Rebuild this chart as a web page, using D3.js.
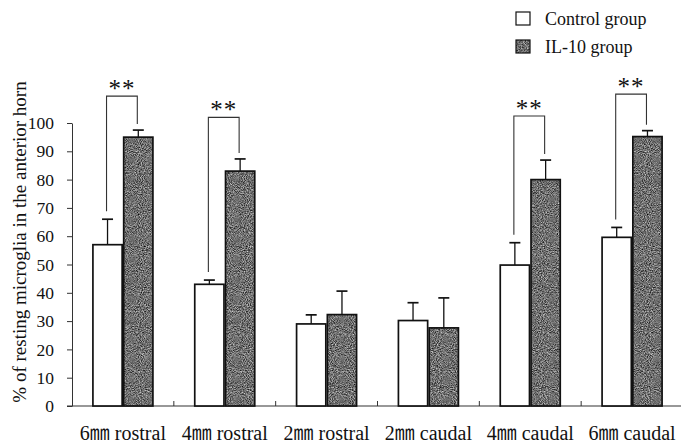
<!DOCTYPE html>
<html>
<head>
<meta charset="utf-8">
<script src="https://cdn.jsdelivr.net/npm/d3@7/dist/d3.min.js"></script>
<style>
  html, body { margin: 0; padding: 0; background: #fff; }
  svg { display: block; }
  text { font-family: "Liberation Serif", "Times New Roman", "Noto Sans CJK JP", serif; fill: #111; }
</style>
</head>
<body>
<svg id="chart" width="681" height="444"></svg>
<script>
// Sampling sites along the cord
const categories = ["6㎜ rostral", "4㎜ rostral", "2㎜ rostral", "2㎜ caudal", "4㎜ caudal", "6㎜ caudal"];
const groups = ["Control group", "IL-10 group"];

// Mean % of resting microglia and SD (upper error bar only)
const controlMean = [57, 43, 29, 30.2, 49.8, 59.6];
const controlErr  = [9, 1.5, 3.2, 6.3, 7.9, 3.5];
const il10Mean    = [95, 83, 32.3, 27.6, 80, 95.2];
const il10Err     = [2.5, 4.3, 8.3, 10.6, 6.9, 2.1];

// Significance marks and the value level of each bracket
const sigMarks  = ["**", "**", "", "", "**", "**"];
const sigLevels = [109.5, 102, null, null, 102.5, 110.2];

const yTicks = [0, 10, 20, 30, 40, 50, 60, 70, 80, 90, 100];
const yTitle = "% of resting microglia in the anterior horn";

const svg = d3.select("#chart");
const W = 681, H = 444;
const m = { left: 72, right: -2, top: 123, bottom: 38 };

const x0 = d3.scaleBand().domain(categories).range([m.left, W - m.right]).paddingInner(0).paddingOuter(0);
const bw = x0.bandwidth();
const x1 = d3.scaleBand().domain(groups).range([bw / 2 - 30, bw / 2 + 30]).paddingInner(0.05);
const y = d3.scaleLinear().domain([0, 100]).range([H - m.bottom, m.top]);

// Grainy grey fill for the IL-10 bars
const defs = svg.append("defs");
const f = defs.append("filter").attr("id", "grain")
  .attr("x", 0).attr("y", 0).attr("width", 1).attr("height", 1)
  .attr("filterUnits", "objectBoundingBox")
  .attr("color-interpolation-filters", "sRGB");
f.append("feTurbulence").attr("type", "fractalNoise").attr("baseFrequency", 0.95)
  .attr("numOctaves", 2).attr("seed", 7).attr("result", "noise");
f.append("feColorMatrix").attr("in", "noise").attr("type", "matrix")
  .attr("values", "1.05 0 0 0 -0.09  1.05 0 0 0 -0.09  1.05 0 0 0 -0.09  0 0 0 0 1")
  .attr("result", "g");
f.append("feComposite").attr("in", "g").attr("in2", "SourceGraphic").attr("operator", "in");

const rows = categories.map((c, i) => ({
  cat: c,
  vals: [
    { g: groups[0], v: controlMean[i], e: controlErr[i] },
    { g: groups[1], v: il10Mean[i], e: il10Err[i] }
  ],
  mark: sigMarks[i], level: sigLevels[i]
}));

// Axes
const axisColor = "#333";
const yAxis = d3.axisLeft(y).tickValues(yTicks).tickSize(5).tickPadding(13).tickSizeOuter(0);
const gy = svg.append("g").attr("transform", `translate(${m.left},0)`).call(yAxis);
gy.select(".domain").attr("stroke", axisColor).attr("stroke-width", 1);
gy.selectAll(".tick line").attr("stroke", axisColor);
gy.selectAll(".tick text").attr("font-size", 17.5).attr("fill", "#111")
  .style("font-family", "'Liberation Serif', serif");

// Baseline and the small category separators
svg.append("line").attr("x1", m.left - 5).attr("x2", W).attr("y1", y(0)).attr("y2", y(0))
  .attr("stroke", axisColor).attr("stroke-width", 1.2);
svg.append("g").selectAll("line").data(categories.slice(1)).join("line")
  .attr("x1", d => x0(d)).attr("x2", d => x0(d))
  .attr("y1", y(0)).attr("y2", y(0) - 5)
  .attr("stroke", axisColor);

// Category labels
svg.append("g").selectAll("text").data(categories).join("text")
  .attr("x", d => x0(d) + bw / 2).attr("y", 440)
  .attr("text-anchor", "middle").attr("font-size", 20)
  .text(d => d);

// Y title
svg.append("text")
  .attr("transform", `translate(26,${(y(0) + 78) / 2}) rotate(-90)`)
  .attr("text-anchor", "middle").attr("font-size", 19)
  .text(yTitle);

// Bars
const cg = svg.append("g").selectAll("g").data(rows).join("g")
  .attr("transform", d => `translate(${x0(d.cat)},0)`);

cg.selectAll("rect.fill").data(d => d.vals).join("rect")
  .attr("class", "fill")
  .attr("x", d => x1(d.g)).attr("width", x1.bandwidth())
  .attr("y", d => y(d.v)).attr("height", d => y(0) - y(d.v))
  .attr("fill", d => d.g === groups[0] ? "#fff" : "#6e6e6e")
  .attr("filter", d => d.g === groups[0] ? null : "url(#grain)");

cg.selectAll("rect.edge").data(d => d.vals).join("rect")
  .attr("class", "edge")
  .attr("x", d => x1(d.g)).attr("width", x1.bandwidth())
  .attr("y", d => y(d.v)).attr("height", d => y(0) - y(d.v))
  .attr("fill", "none").attr("stroke", "#111").attr("stroke-width", 1.7);

// Upper error bars
const eb = cg.selectAll("g.err").data(d => d.vals).join("g").attr("class", "err");
eb.append("line")
  .attr("x1", d => x1(d.g) + x1.bandwidth() / 2).attr("x2", d => x1(d.g) + x1.bandwidth() / 2)
  .attr("y1", d => y(d.v)).attr("y2", d => y(d.v + d.e))
  .attr("stroke", "#111").attr("stroke-width", 1.3);
eb.append("line")
  .attr("x1", d => x1(d.g) + x1.bandwidth() / 2 - 5.5).attr("x2", d => x1(d.g) + x1.bandwidth() / 2 + 5.5)
  .attr("y1", d => y(d.v + d.e)).attr("y2", d => y(d.v + d.e))
  .attr("stroke", "#111").attr("stroke-width", 1.7);

// Significance brackets
const sig = cg.filter(d => d.mark);
sig.append("path")
  .attr("d", d => {
    const xl = x1(groups[0]) + x1.bandwidth() / 2 - 1;
    const xr = x1(groups[1]) + x1.bandwidth() / 2 - 1;
    const yt = y(d.level);
    const yl = y(d.vals[0].v + d.vals[0].e) - 8;
    const yr = y(d.vals[1].v + d.vals[1].e) - 6;
    return `M${xl},${yl}V${yt}H${xr}V${yr}`;
  })
  .attr("fill", "none").attr("stroke", "#333").attr("stroke-width", 1.1);
sig.append("text")
  .attr("x", (x1(groups[0]) + x1(groups[1]) + x1.bandwidth()) / 2 - 1)
  .attr("y", d => y(d.level) + 1)
  .attr("text-anchor", "middle").attr("font-size", 25).attr("letter-spacing", 1)
  .attr("fill", "#333")
  .text(d => d.mark);

// Legend
const lg = svg.append("g").selectAll("g").data(groups).join("g")
  .attr("transform", (d, i) => `translate(516,${12 + i * 28})`);
lg.append("rect").attr("width", 14).attr("height", 13)
  .attr("fill", (d, i) => i ? "#6e6e6e" : "#fff")
  .attr("filter", (d, i) => i ? "url(#grain)" : null);
lg.append("rect").attr("width", 14).attr("height", 13)
  .attr("fill", "none").attr("stroke", "#111").attr("stroke-width", 1.2);
lg.append("text").attr("x", 29).attr("y", 13).attr("font-size", 18).text(d => d);
</script>
</body>
</html>
